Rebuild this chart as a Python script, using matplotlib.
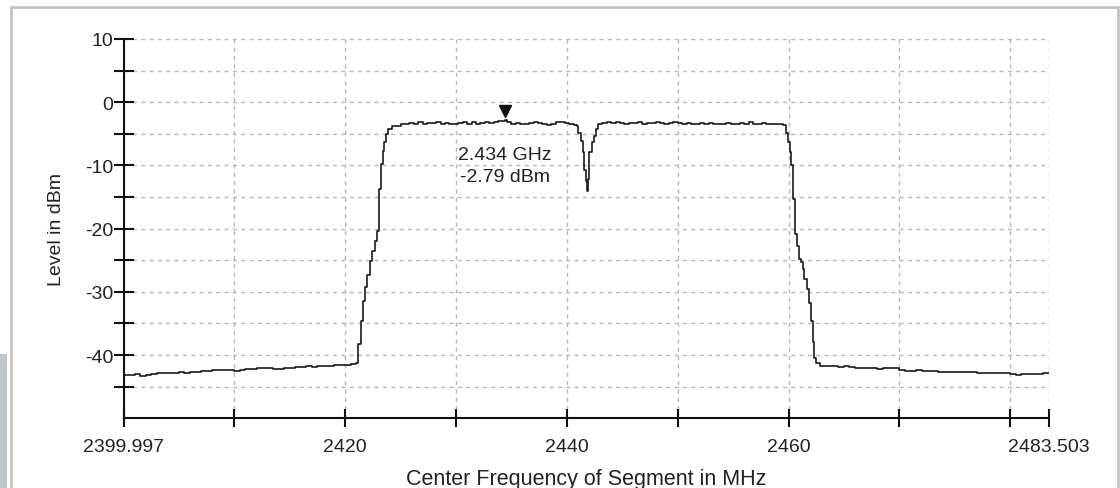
import matplotlib
matplotlib.use("Agg")
import matplotlib.pyplot as plt
from matplotlib.patches import Rectangle
from matplotlib.lines import Line2D
import matplotlib.transforms as mtransforms

plt.rcParams['font.family'] = ['Liberation Sans', 'DejaVu Sans']

# Spectrum sweep: segment centre frequency (MHz) and level (dBm)
freq_mhz = [
    2399.997, 2400.5, 2401.0, 2401.5, 2402.0, 2402.5, 2403.0, 2403.5, 2404.0, 2404.5,
    2405.0, 2405.5, 2406.0, 2406.5, 2407.0, 2407.5, 2408.0, 2408.5, 2409.0, 2409.5,
    2410.0, 2410.5, 2411.0, 2411.5, 2412.0, 2412.5, 2413.0, 2413.5, 2414.0, 2414.5,
    2415.0, 2415.5, 2416.0, 2416.5, 2417.0, 2417.5, 2418.0, 2418.5, 2419.0, 2419.5,
    2420.0, 2420.5, 2421.0,
    2421.19, 2421.40, 2421.64, 2421.79, 2422.00, 2422.24, 2422.45, 2422.70, 2422.90,
    2423.08, 2423.21, 2423.39, 2423.54, 2423.66, 2423.90, 2424.2, 2424.65,
    2425.0, 2425.4, 2425.8, 2426.2, 2426.6, 2427.0, 2427.4, 2427.8, 2428.2, 2428.6,
    2429.0, 2429.4, 2429.8, 2430.2, 2430.6, 2431.0, 2431.4, 2431.8, 2432.2, 2432.6,
    2433.0, 2433.4, 2433.8, 2434.2, 2434.4, 2434.6, 2435.0, 2435.4, 2435.8, 2436.2,
    2436.6, 2437.0, 2437.4, 2437.8, 2438.2, 2438.6, 2439.0, 2439.4, 2439.8, 2440.2,
    2440.6, 2440.9,
    2441.04, 2441.26, 2441.44, 2441.56, 2441.74, 2441.80, 2441.89, 2442.04, 2442.25,
    2442.46, 2442.64, 2442.85,
    2443.2, 2443.6, 2444.0, 2444.4, 2444.8, 2445.2, 2445.6, 2446.0, 2446.4, 2446.8,
    2447.2, 2447.6, 2448.0, 2448.4, 2448.8, 2449.2, 2449.6, 2450.0, 2450.4, 2450.8,
    2451.2, 2451.6, 2452.0, 2452.4, 2452.8, 2453.2, 2453.6, 2454.0, 2454.4, 2454.8,
    2455.2, 2455.6, 2456.0, 2456.4, 2456.8, 2457.2, 2457.6, 2458.0, 2458.4, 2458.8,
    2459.2, 2459.54,
    2459.79, 2459.91, 2460.09, 2460.21, 2460.39, 2460.60, 2460.75, 2460.96, 2461.11,
    2461.29, 2461.44, 2461.66, 2461.86, 2462.02, 2462.20, 2462.32, 2462.50, 2462.86,
    2463.5, 2464.0, 2464.5, 2465.0, 2465.5, 2466.0, 2466.5, 2467.0, 2467.5, 2468.0,
    2468.5, 2469.0, 2469.5, 2470.0, 2470.5, 2471.0, 2471.5, 2472.0, 2472.5, 2473.0,
    2473.5, 2474.0, 2474.5, 2475.0, 2475.5, 2476.0, 2476.5, 2477.0, 2477.5, 2478.0,
    2478.5, 2479.0, 2479.5, 2480.0, 2480.5, 2481.0, 2481.5, 2482.0, 2482.5, 2483.0,
    2483.503,
]
level_dbm = [
    -43.1, -43.1, -43.0, -43.3, -43.2, -43.0, -42.9, -42.9, -42.8, -42.8,
    -42.7, -42.8, -42.6, -42.7, -42.5, -42.5, -42.4, -42.4, -42.3, -42.3,
    -42.5, -42.3, -42.2, -42.2, -42.1, -42.1, -42.0, -42.2, -42.2, -42.1,
    -42.0, -41.9, -41.9, -41.8, -41.9, -41.8, -41.8, -41.8, -41.6, -41.6,
    -41.5, -41.4, -41.3,
    -38.3, -34.6, -31.4, -29.3, -27.4, -25.1, -23.5, -21.9, -20.3,
    -13.7, -9.8, -7.7, -6.3, -5.0, -4.2, -3.8, -3.7,
    -3.5, -3.4, -3.3, -3.4, -3.2, -3.5, -3.3, -3.3, -3.2, -3.4,
    -3.3, -3.5, -3.4, -3.3, -3.2, -3.4, -3.2, -3.4, -3.3, -3.1,
    -3.3, -3.2, -3.0, -2.9, -2.79, -3.2, -3.4, -3.3, -3.5, -3.4,
    -3.3, -3.2, -3.3, -3.4, -3.6, -3.4, -3.2, -3.1, -3.3, -3.5,
    -3.6, -3.8,
    -4.8, -6.1, -7.9, -10.8, -12.4, -14.0, -12.2, -7.9, -6.3,
    -5.3, -4.2, -3.5,
    -3.3, -3.2, -3.3, -3.2, -3.3, -3.4, -3.3, -3.3, -3.2, -3.4,
    -3.3, -3.3, -3.2, -3.3, -3.4, -3.3, -3.2, -3.3, -3.4, -3.3,
    -3.5, -3.4, -3.3, -3.4, -3.3, -3.4, -3.5, -3.4, -3.3, -3.4,
    -3.5, -3.3, -3.4, -3.2, -3.4, -3.5, -3.3, -3.4, -3.5, -3.4,
    -3.5, -3.6,
    -4.8, -6.3, -7.9, -10.0, -15.3, -20.9, -22.7, -24.8, -25.3,
    -26.4, -28.0, -29.6, -31.7, -34.6, -38.0, -40.4, -41.2, -41.7,
    -41.8, -41.7, -41.9, -41.8, -41.9, -42.0, -42.1, -42.0, -42.1, -42.2,
    -42.0, -42.1, -42.0, -42.4, -42.5, -42.5, -42.3, -42.5, -42.5, -42.5,
    -42.6, -42.6, -42.6, -42.6, -42.6, -42.6, -42.6, -42.8, -42.8, -42.8,
    -42.8, -42.8, -42.8, -43.0, -43.1, -43.0, -43.0, -43.0, -43.0, -42.9,
    -42.8,
]

# Peak marker
marker_freq = 2434.4
marker_level = -2.79
marker_text = ["2.434 GHz", "-2.79 dBm"]

# Axis ticks
x_min, x_max = 2399.997, 2483.503
x_ticks = [2399.997, 2410, 2420, 2430, 2440, 2450, 2460, 2470, 2480, 2483.503]
x_tick_labels = ["2399.997", "", "2420", "", "2440", "", "2460", "", "", "2483.503"]
y_ticks = [10, 5, 0, -5, -10, -15, -20, -25, -30, -35, -40, -45]
y_tick_labels = ["10", "", "0", "", "-10", "", "-20", "", "-30", "", "-40", ""]

W, H = 1120, 489
fig = plt.figure(figsize=(W / 100, H / 100), dpi=100)
fig.patch.set_facecolor("white")

# Window frame and side strip
fig.add_artist(Rectangle((11 / W, -0.05), (1118 - 11) / W, (H - 8) / H + 0.05,
                         transform=fig.transFigure, facecolor="none",
                         edgecolor="#c4c4c4", linewidth=2.0))
fig.add_artist(Rectangle((0, 0), 7 / W, (H - 355) / H, transform=fig.transFigure,
                         facecolor="#bcc6cb", edgecolor="none"))

ax = fig.add_axes([123.5 / W, (H - 419.3) / H, (1049 - 123.5) / W, (419.3 - 40) / H])
ax.set_xlim(x_min, x_max)
ax.set_ylim(-50, 10)

# Dashed grid
grid_kw = dict(color="#b8b8b8", linewidth=1.0, linestyle=(0, (3, 3)), zorder=1)
for xv in x_ticks:
    ax.add_line(Line2D([xv, xv], [-50, 10], **grid_kw))
for yv in y_ticks:
    ax.add_line(Line2D([x_min, x_max], [yv, yv], **grid_kw))

ax.plot(freq_mhz, level_dbm, drawstyle="steps-post", color="#1a1a1a",
        linewidth=1.2, zorder=3)

# Marker triangle with its tip on the peak
tri_tf = mtransforms.offset_copy(ax.transData, fig=fig, x=0, y=6.5, units="points")
ax.plot([marker_freq], [marker_level], marker="v", markersize=9,
        color="#111111", transform=tri_tf, zorder=4, clip_on=False)
ax.annotate("\n".join(marker_text), xy=(marker_freq, marker_level),
            xytext=(0, -19), textcoords="offset points", ha="center", va="top",
            fontsize=14, color="#222222", linespacing=1.4)

for s in ["top", "right"]:
    ax.spines[s].set_visible(False)
for s in ["left", "bottom"]:
    ax.spines[s].set_linewidth(1.5)
    ax.spines[s].set_color("#111111")

ax.set_xticks(x_ticks)
ax.set_xticklabels(x_tick_labels)
ax.set_yticks(y_ticks)
ax.set_yticklabels(y_tick_labels)
ax.tick_params(axis="both", direction="inout", width=1.5, color="#111111",
               labelsize=14, labelcolor="#222222")
ax.tick_params(axis="y", length=15, pad=0)
ax.tick_params(axis="x", length=13, pad=8)

ax.set_xlabel("Center Frequency of Segment in MHz", fontsize=15.5,
              color="#222222", labelpad=9)
ax.set_ylabel("Level in dBm", fontsize=14, color="#222222", labelpad=14)

fig.savefig("out.png", dpi=100)
